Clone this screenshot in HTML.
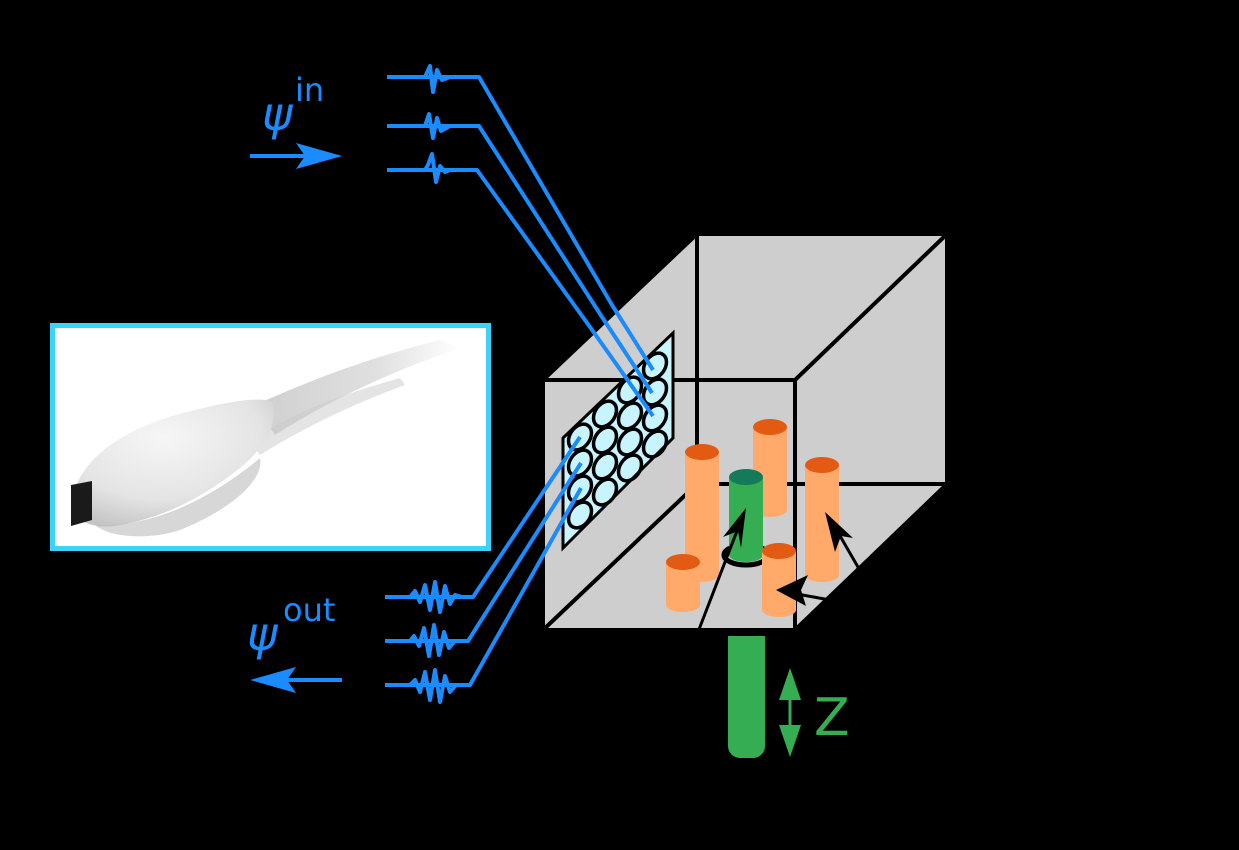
<!DOCTYPE html>
<html><head><meta charset="utf-8"><style>
html,body{margin:0;padding:0;background:#000;width:1239px;height:850px;overflow:hidden}
svg{display:block}
text{font-family:"DejaVu Sans","Liberation Sans",sans-serif}
</style></head><body>
<svg width="1239" height="850" viewBox="0 0 1239 850">
<defs>
<linearGradient id="cable" x1="0" y1="0" x2="1" y2="0">
<stop offset="0" stop-color="#cfcfcf"/><stop offset="0.6" stop-color="#e0e0e0"/><stop offset="1" stop-color="#ffffff"/>
</linearGradient>
<radialGradient id="head" cx="0.45" cy="0.3" r="0.75">
<stop offset="0" stop-color="#f6f6f6"/><stop offset="0.65" stop-color="#e4e4e4"/><stop offset="1" stop-color="#c4c4c4"/>
</radialGradient>
<marker id="ah" markerWidth="10" markerHeight="10" refX="8" refY="5" orient="auto" markerUnits="userSpaceOnUse"><path d="M0,0 L10,5 L0,10 L3,5 Z" fill="#000"/></marker>
</defs>

<g>
<rect x="52.5" y="325.5" width="436" height="223" fill="#fff" stroke="#3ad4f7" stroke-width="5"/>
<path d="M255,405 C300,385 360,360 440,340 L460,348 C390,372 330,400 275,435 Z" fill="url(#cable)"/>
<path d="M250,440 C300,410 340,395 400,378 L405,385 C350,405 300,430 260,455 Z" fill="#c9c9c9" opacity="0.5"/>
<path d="M72,500 C80,455 130,425 195,410 C235,400 262,397 272,402 C280,425 262,450 240,468 C200,500 160,518 120,525 C95,530 78,522 72,510 Z" fill="url(#head)"/>
<path d="M95,525 C150,528 210,500 260,458 C265,480 230,510 180,530 C150,540 110,538 95,525 Z" fill="#bdbdbd" opacity="0.6"/>
<polygon points="71,485 92,481 92,520 71,526" fill="#1a1a1a"/>
</g>

<g>
<polygon points="543,380 697,234 947,234 947,484 795,630 543,630" fill="#cecece"/>
<g stroke="#000" stroke-width="4" fill="none">
<polyline points="543,380 697,234 947,234 947,484 795,630"/>
<line x1="697" y1="234" x2="697" y2="484"/>
<line x1="697" y1="484" x2="947" y2="484"/>
<line x1="543" y1="630" x2="697" y2="484"/>
<line x1="795" y1="380" x2="947" y2="234"/>
<rect x="543" y="380" width="252" height="250"/>
</g>
</g>

<g>
<polygon points="563,438 673,333 673,438 563,548" fill="#c8f4ff" stroke="#000" stroke-width="3"/>
<g fill="none" stroke="#000" stroke-width="3.5">
<ellipse cx="580" cy="437" rx="10" ry="14" transform="rotate(35 580 437)"/>
<ellipse cx="605" cy="414" rx="10" ry="14" transform="rotate(35 605 414)"/>
<ellipse cx="630" cy="390" rx="10" ry="14" transform="rotate(35 630 390)"/>
<ellipse cx="655" cy="366" rx="10" ry="14" transform="rotate(35 655 366)"/>
<ellipse cx="580" cy="463" rx="10" ry="14" transform="rotate(35 580 463)"/>
<ellipse cx="605" cy="440" rx="10" ry="14" transform="rotate(35 605 440)"/>
<ellipse cx="630" cy="416" rx="10" ry="14" transform="rotate(35 630 416)"/>
<ellipse cx="655" cy="392" rx="10" ry="14" transform="rotate(35 655 392)"/>
<ellipse cx="580" cy="489" rx="10" ry="14" transform="rotate(35 580 489)"/>
<ellipse cx="605" cy="466" rx="10" ry="14" transform="rotate(35 605 466)"/>
<ellipse cx="630" cy="442" rx="10" ry="14" transform="rotate(35 630 442)"/>
<ellipse cx="655" cy="418" rx="10" ry="14" transform="rotate(35 655 418)"/>
<ellipse cx="580" cy="515" rx="10" ry="14" transform="rotate(35 580 515)"/>
<ellipse cx="605" cy="492" rx="10" ry="14" transform="rotate(35 605 492)"/>
<ellipse cx="630" cy="468" rx="10" ry="14" transform="rotate(35 630 468)"/>
<ellipse cx="655" cy="444" rx="10" ry="14" transform="rotate(35 655 444)"/>
</g>
</g>

<g stroke="#1a8cff" stroke-width="4" fill="none" stroke-linejoin="round">
<polyline points="387,77 479,77 612,305 653,370"/>
<polyline points="387,126 479,126 602,317 652,393"/>
<polyline points="387,170 477,170 590,327 653,416"/>
<path d="M415,77 L425,77 L430,66 L433,92 L437,70 L442,80 L450,77"/>
<path d="M415,126 L425,126 L429,114 L433,138 L437,118 L441,131 L450,126"/>
<path d="M415,170 L425,170 L428,165 L432,154 L436,182 L440,166 L445,172 L450,170"/>
<line x1="250" y1="156" x2="330" y2="156"/>
</g>
<polygon points="342,156 296,143 305,156 296,169" fill="#1a8cff"/>
<g stroke="#1a8cff" stroke-width="4" fill="none" stroke-linejoin="round">
<polyline points="385,597 473,597 580,437"/>
<polyline points="385,641 468,641 581,463"/>
<polyline points="385,685 470,685 581,488"/>
<path d="M400,597 L410,597 L415,591 L420,602 L425,585 L430,610 L435,582 L440,612 L445,586 L450,604 L455,595 L462,597"/>
<path d="M400,641 L410,641 L414,636 L419,646 L424,628 L429,656 L434,625 L439,655 L444,632 L449,648 L455,641"/>
<path d="M400,685 L410,685 L415,680 L420,692 L425,672 L430,700 L435,670 L440,702 L445,676 L450,692 L456,685 L462,685"/>
<line x1="262" y1="680" x2="342" y2="680"/>
</g>
<polygon points="250,680 296,667 287,680 296,693" fill="#1a8cff"/>

<text x="262" y="130" font-size="46" font-style="italic" fill="#1a8cff">ψ</text>
<text x="295" y="101" font-size="32" fill="#1a8cff">in</text>
<text x="247" y="650" font-size="46" font-style="italic" fill="#1a8cff">ψ</text>
<text x="283" y="621" font-size="32" fill="#1a8cff">out</text>

<g>
<g><rect x="753" y="427" width="34" height="83" fill="#ffaa6a"/><ellipse cx="770" cy="510" rx="17" ry="7" fill="#ffaa6a"/><ellipse cx="770" cy="427" rx="17" ry="8" fill="#e35a12"/></g>
<g><rect x="685" y="452" width="34" height="123" fill="#ffaa6a"/><ellipse cx="702" cy="575" rx="17" ry="7" fill="#ffaa6a"/><ellipse cx="702" cy="452" rx="17" ry="8" fill="#e35a12"/></g>
<g><rect x="805" y="465" width="34" height="110" fill="#ffaa6a"/><ellipse cx="822" cy="575" rx="17" ry="7" fill="#ffaa6a"/><ellipse cx="822" cy="465" rx="17" ry="8" fill="#e35a12"/></g>
<ellipse cx="746" cy="555" rx="22" ry="10" fill="none" stroke="#000" stroke-width="5"/>
<g><rect x="729" y="477" width="34" height="78" fill="#35ad52"/><ellipse cx="746" cy="555" rx="17" ry="7" fill="#35ad52"/><ellipse cx="746" cy="477" rx="17" ry="8" fill="#157a5a"/></g>
<g><rect x="666" y="562" width="34" height="43" fill="#ffaa6a"/><ellipse cx="683" cy="605" rx="17" ry="7" fill="#ffaa6a"/><ellipse cx="683" cy="562" rx="17" ry="8" fill="#e35a12"/></g>
<g><rect x="762" y="551" width="34" height="59" fill="#ffaa6a"/><ellipse cx="779" cy="610" rx="17" ry="7" fill="#ffaa6a"/><ellipse cx="779" cy="551" rx="17" ry="8" fill="#e35a12"/></g>
</g>
<g stroke="#000" stroke-width="3" fill="none">
<line x1="698" y1="632" x2="742" y2="518"/>
<line x1="862" y1="574" x2="832" y2="522"/>
<line x1="830" y1="600" x2="786" y2="592"/>
</g>
<polygon points="746,508 723,537 738,531 741,548" fill="#000"/>
<polygon points="825,512 853,538 841,536 835,552" fill="#000"/>
<polygon points="776,590 808,575 801,590 806,606" fill="#000"/>

<path d="M728,636 H765 V746 A12,12 0 0 1 753,758 H740 A12,12 0 0 1 728,746 Z" fill="#35ad52"/>
<g>
<line x1="790" y1="690" x2="790" y2="735" stroke="#35ad52" stroke-width="3"/>
<polygon points="790,668 779,700 801,700" fill="#35ad52"/>
<polygon points="790,757 779,725 801,725" fill="#35ad52"/>
</g>
<text x="814" y="735" font-size="52" fill="#35ad52">Z</text>
</svg>
</body></html>
